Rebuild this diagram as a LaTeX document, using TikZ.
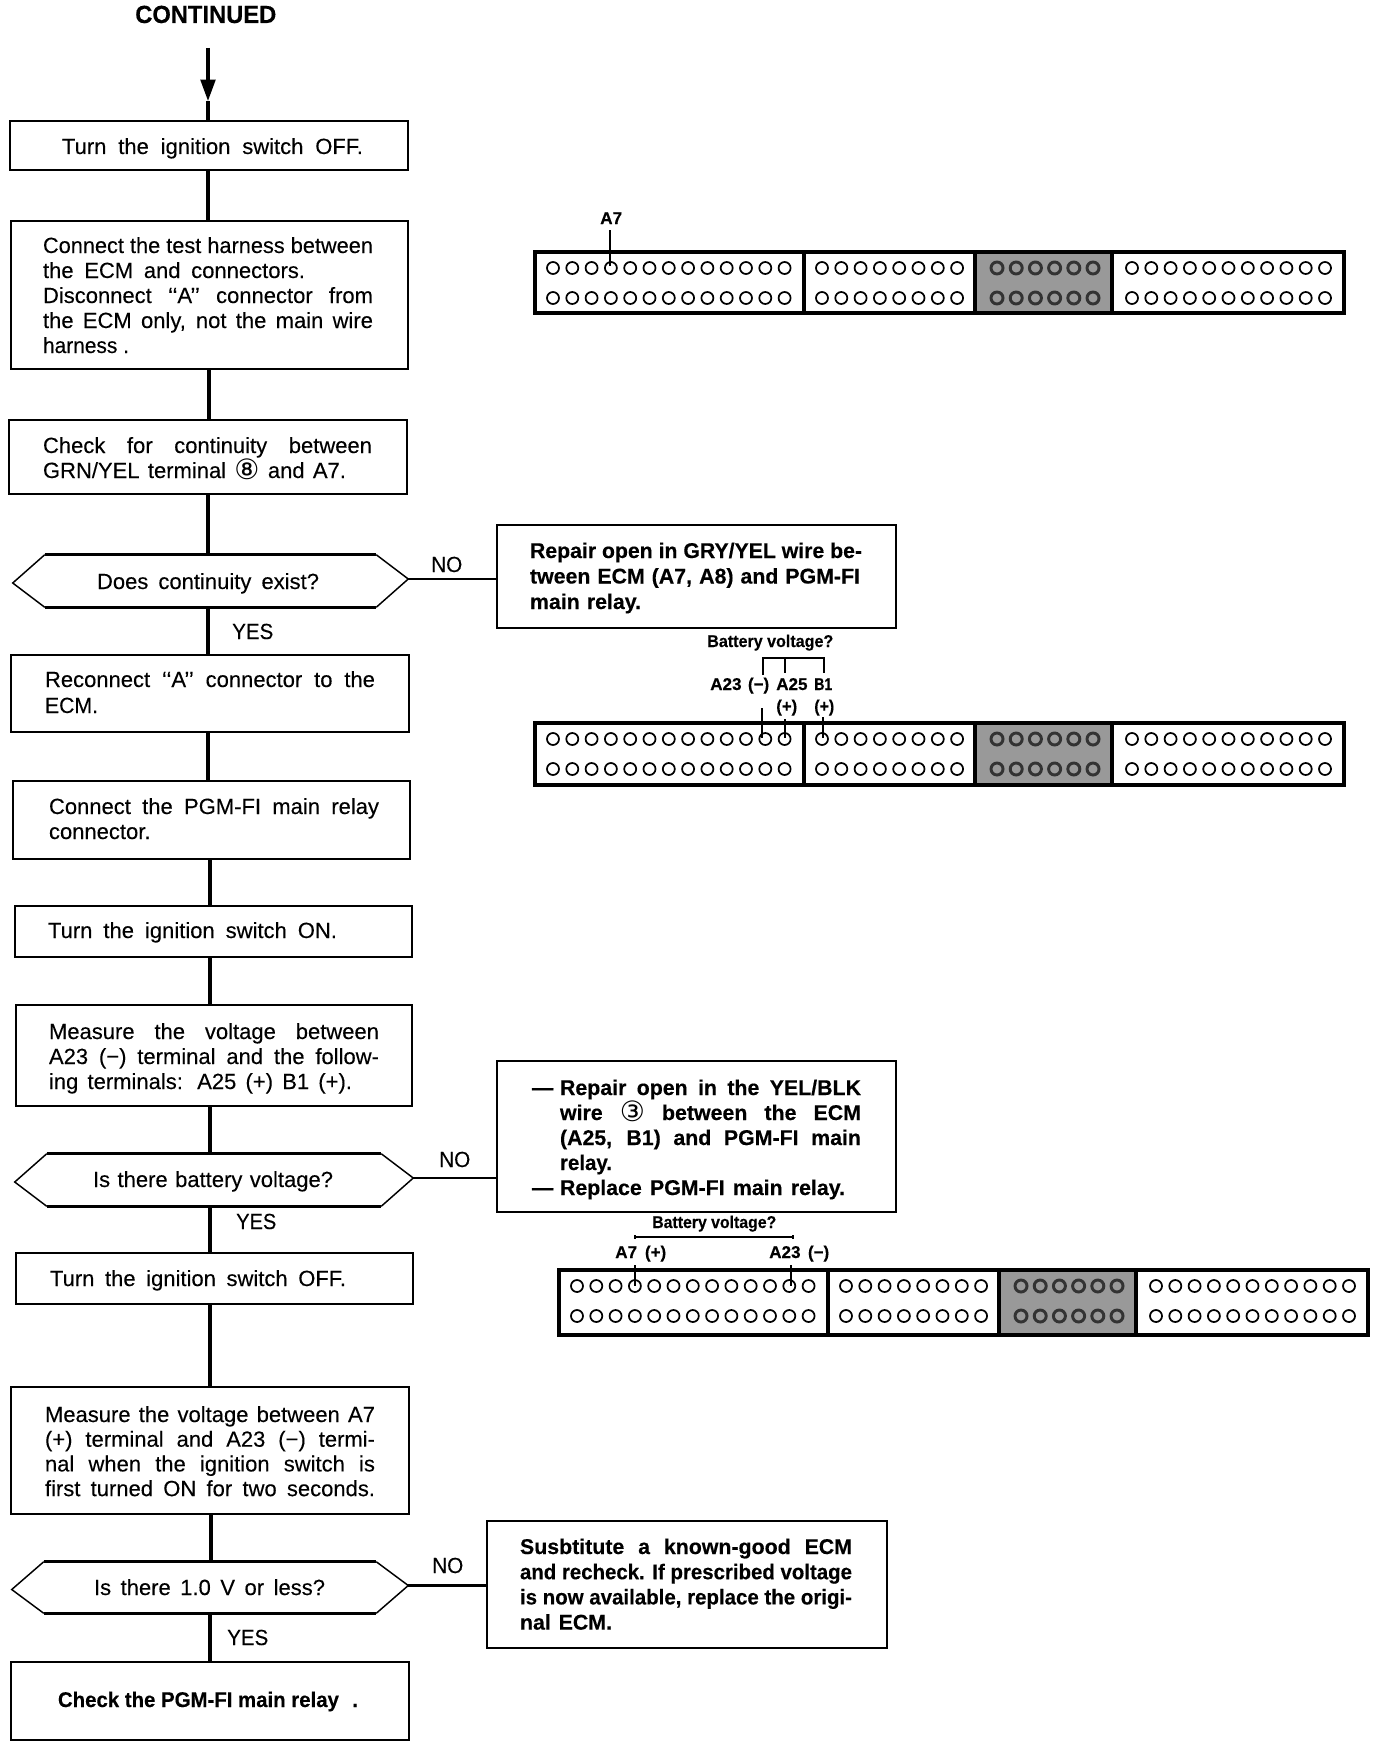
\documentclass[tikz,border=0pt]{standalone}
\usepackage{fontspec}
\usepackage{graphicx}
\setmainfont{Liberation Sans}[FakeBold=0.2,BoldFeatures={FakeBold=0.3}]
\newfontfamily\symf{DejaVu Sans}
\usetikzlibrary{arrows.meta}
\newlength\ux \ux=0.75pt
\newsavebox\fitbb
\newcommand\fitw[2]{\sbox\fitbb{#2}\ifdim\wd\fitbb>#1\ux\resizebox{#1\ux}{\height}{\usebox\fitbb}\else\makebox[#1\ux][s]{#2}\fi}
\def\curL{0}\def\curP{25}\def\curW{0}
\newcommand\lineT[3][0]{\hbox to \curW\ux{\hskip\curL\ux\hskip#1\ux\smash{\fitw{#2}{#3}}\hss}\vskip\curP\ux}
\newcommand\txt{\fontsize{16.5pt}{18pt}\selectfont}
\newcommand\bfb{\fontsize{16pt}{18pt}\selectfont\bfseries}
\newcommand\smb{\fontsize{12.8pt}{14pt}\selectfont\bfseries}
\newcommand\circd[1]{\raisebox{-1.2pt}{\mdseries\fontsize{21pt}{22pt}\selectfont\symf\char"#1}}
\tikzset{
 bxs/.style={draw=black,line width=2.1pt,fill=white,inner sep=0pt,rectangle},
 hxs/.style={inner sep=0pt,rectangle},
 wire/.style={line width=2.3pt},
 nowire/.style={line width=1.6pt},
 fine/.style={line width=1.2pt},
 lab/.style={anchor=base west,inner sep=0pt},
 hole/.style={draw=black,line width=1.3pt,fill=white},
 ghole/.style={draw=black!80,line width=2.2pt,fill=black!40},
 shell/.style={draw=black,line width=2.8pt,fill=white}
}
% name x0 y0 x1 y1 textx baseline pitch lines
\newcommand\plainbox[9]{%
 \pgfmathsetmacro\cxx{(#2+#4)/2}\pgfmathsetmacro\cyy{(#3+#5)/2}%
 \pgfmathsetmacro\wxx{#4-#2}\pgfmathsetmacro\hxx{#5-#3}%
 \pgfmathsetmacro\lxx{#6-#2}\pgfmathsetmacro\bxx{#7-#3}%
 \node[bxs,minimum width=\wxx*0.75pt,minimum height=\hxx*0.75pt] (#1) at (\cxx,\cyy)
 {\vbox to \hxx\ux{\offinterlineskip\txt\edef\curL{\lxx}\edef\curW{\wxx}\def\curP{#8}\vskip\bxx\ux #9\vss}};}
\newcommand\hexbox[9]{%
 \pgfmathsetmacro\cxx{(#2+#4)/2}\pgfmathsetmacro\cyy{(#3+#5)/2}%
 \pgfmathsetmacro\wxx{#4-#2}\pgfmathsetmacro\hxx{#5-#3}%
 \pgfmathsetmacro\lxx{#6-#2}\pgfmathsetmacro\bxx{#7-#3}%
 \node[hxs,minimum width=\wxx*0.75pt,minimum height=\hxx*0.75pt] (#1) at (\cxx,\cyy)
 {\vbox to \hxx\ux{\offinterlineskip\txt\edef\curL{\lxx}\edef\curW{\wxx}\def\curP{25}\vskip\bxx\ux\lineT{#8}{#9}\vss}};
 \coordinate (#1-l) at ([yshift=-1.5pt]#1.west);
 \coordinate (#1-r) at ([yshift=1.5pt]#1.east);
 \coordinate (#1-tl) at ([xshift=24pt]#1.north west);
 \coordinate (#1-tr) at ([xshift=-24pt]#1.north east);
 \coordinate (#1-bl) at ([xshift=24pt]#1.south west);
 \coordinate (#1-br) at ([xshift=-24pt]#1.south east);
 \draw[line width=1.1pt] (#1-tl) -- (#1-l) -- (#1-bl);
 \draw[line width=1.1pt] (#1-tr) -- (#1-r) -- (#1-br);
 \draw[line width=2pt] (#1-tl) -- (#1-tr);
 \draw[line width=2pt] (#1-bl) -- (#1-br);}
% dx, top, height
\newcommand\conn[3]{\begin{scope}[shift={(#1,#2)}]
 \draw[shell] (535,0) rectangle (1344,#3);
 \fill[black!40] (975,0) rectangle (1112,#3);
 \draw[line width=2.8pt] (535,0) rectangle (1344,#3);
 \draw[line width=3.2pt] (804,0) -- (804,#3);
 \draw[line width=2.8pt] (975,0) -- (975,#3);
 \draw[line width=3.2pt] (1112,0) -- (1112,#3);
 \foreach \r in {16,46}{
  \foreach \i in {0,...,12}{\pgfmathsetmacro\hh{553+19.3*\i}\draw[hole] (\hh,\r) circle[radius=6];}
  \foreach \i in {0,...,7}{\pgfmathsetmacro\hh{822+19.3*\i}\draw[hole] (\hh,\r) circle[radius=6];}
  \foreach \i in {0,...,5}{\pgfmathsetmacro\hh{997+19.2*\i}\draw[ghole] (\hh,\r) circle[radius=6];}
  \foreach \i in {0,...,10}{\pgfmathsetmacro\hh{1132+19.3*\i}\draw[hole] (\hh,\r) circle[radius=6];}
 }
\end{scope}}
\begin{document}
\begin{tikzpicture}[x=0.75pt,y=-0.75pt]
\useasboundingbox (0,0) rectangle (1376,1748);
% trunk positions
\coordinate (t208) at (208,0);
\coordinate (t209) at (209,0);
\coordinate (t210) at (210,0);
\coordinate (t211) at (211,0);
\coordinate (start) at (208,48);
\coordinate (tip) at (208,101);

\node[lab] (cont) at (135,23) {\fontsize{18.6pt}{22pt}\selectfont\bfseries\fitw{141}{CONTINUED}};

\plainbox{b1}{10}{121}{408}{170}{62}{154}{25}{\lineT{301}{Turn the ignition switch OFF.}}
\plainbox{b2}{11}{221}{408}{369}{43}{253}{25}{%
 \lineT{330}{Connect the test harness between}
 \lineT{262}{the ECM and connectors.}
 \lineT{330}{Disconnect ‘‘A’’ connector from}
 \lineT{330}{the ECM only, not the main wire}
 \lineT{86}{harness .}}
\plainbox{b3}{9}{420}{407}{494}{43}{453}{25}{%
 \lineT{329}{Check for continuity between}
 \lineT{303}{GRN/YEL terminal \circd{2467} and A7.}}
\hexbox{d1}{13}{555}{408}{607}{97}{589}{222}{Does continuity exist?}
\plainbox{b4}{11}{655}{409}{732}{45}{687}{26}{%
 \lineT{330}{Reconnect ‘‘A’’ connector to the}
 \lineT{53}{ECM.}}
\plainbox{b5}{13}{781}{410}{859}{49}{814}{25}{%
 \lineT{330}{Connect the PGM-FI main relay}
 \lineT{108}{connector.}}
\plainbox{b6}{15}{906}{412}{957}{48}{938}{25}{\lineT{289}{Turn the ignition switch ON.}}
\plainbox{b7}{16}{1005}{412}{1106}{49}{1039}{25}{%
 \lineT{330}{Measure the voltage between}
 \lineT{330}{A23 (−) terminal and the follow-}
 \lineT{303}{ing terminals: A25 (+) B1 (+).}}
\hexbox{d2}{15}{1154}{413}{1206}{93}{1187}{240}{Is there battery voltage?}
\plainbox{b8}{16}{1253}{413}{1304}{50}{1286}{25}{\lineT{296}{Turn the ignition switch OFF.}}
\plainbox{b9}{11}{1387}{409}{1514}{45}{1422}{24.7}{%
 \lineT{330}{Measure the voltage between A7}
 \lineT{330}{(+) terminal and A23 (−) termi-}
 \lineT{330}{nal when the ignition switch is}
 \lineT{330}{first turned ON for two seconds.}}
\hexbox{d3}{12}{1562}{408}{1613}{94}{1595}{231}{Is there 1.0 V or less?}
\plainbox{b10}{11}{1662}{409}{1740}{58}{1707}{25}{\bfb\lineT{300}{Check the PGM-FI main relay\hspace{14\ux}.}}

\plainbox{r1}{497}{525}{896}{628}{530}{558}{25.5}{\bfb
 \lineT{332}{Repair open in GRY/YEL wire be-}
 \lineT{330}{tween ECM (A7, A8) and PGM-FI}
 \lineT{111}{main relay.}}
\plainbox{r2}{497}{1061}{896}{1212}{532}{1095}{25}{\bfb
 \lineT{329}{\makebox[28\ux][l]{—}Repair open in the YEL/BLK}
 \lineT[28]{301}{wire \circd{2462} between the ECM}
 \lineT[28]{301}{(A25, B1) and PGM-FI main}
 \lineT[28]{52}{relay.}
 \lineT{313}{\makebox[28\ux][l]{—}Replace PGM-FI main relay.}}
\plainbox{r3}{487}{1521}{887}{1648}{520}{1554}{25.2}{\bfb
 \lineT{332}{Susbtitute a known-good ECM}
 \lineT{332}{and recheck. If prescribed voltage}
 \lineT{332}{is now available, replace the origi-}
 \lineT{92}{nal ECM.}}

\node[lab] (no1) at (431,572) {\fontsize{16.4pt}{20pt}\selectfont\fitw{31}{NO}};
\node[lab] (yes1) at (232,639) {\fontsize{16.4pt}{20pt}\selectfont\fitw{41}{YES}};
\node[lab] (no2) at (439,1167) {\fontsize{16.4pt}{20pt}\selectfont\fitw{31}{NO}};
\node[lab] (yes2) at (236,1229) {\fontsize{16.4pt}{20pt}\selectfont\fitw{40}{YES}};
\node[lab] (no3) at (432,1573) {\fontsize{16.4pt}{20pt}\selectfont\fitw{31}{NO}};
\node[lab] (yes3) at (227,1645) {\fontsize{16.4pt}{20pt}\selectfont\fitw{41}{YES}};

% flow connectors
\draw[wire,-{Triangle[length=16pt,width=11pt]}] (start) -- (tip);
\draw[wire] (tip) -- (t208 |- b1.north);
\draw[wire] (t208 |- b1.south) -- (t208 |- b2.north);
\draw[wire] (t209 |- b2.south) -- (t209 |- b3.north);
\draw[wire] (t208 |- b3.south) -- (t208 |- d1.north);
\draw[wire] (t208 |- d1.south) -- (t208 |- b4.north);
\draw[line width=3pt] (t208 |- b4.south) -- (t208 |- b5.north);
\draw[wire] (t210 |- b5.south) -- (t210 |- b6.north);
\draw[wire] (t210 |- b6.south) -- (t210 |- b7.north);
\draw[wire] (t210 |- b7.south) -- (t210 |- d2.north);
\draw[wire] (t210 |- d2.south) -- (t210 |- b8.north);
\draw[wire] (t210 |- b8.south) -- (t210 |- b9.north);
\draw[wire] (t211 |- b9.south) -- (t211 |- d3.north);
\draw[wire] (t210 |- d3.south) -- (t210 |- b10.north);
\draw[nowire] (d1-r) -- (d1-r -| r1.west);
\draw[nowire] (d2-r) -- (d2-r -| r2.west);
\draw[nowire] (d3-r) -- (d3-r -| r3.west);

% connector 1
\conn{0}{252}{61}
\node[lab] (a71) at (600,224) {\smb\fitw{22}{A7}};
\coordinate (a71up) at (610,230);
\coordinate (a71hole) at (610,266);
\draw[fine] (a71up) -- (a71hole);

% connector 2
\conn{0}{723}{62}
\node[lab] (bv1) at (707,647) {\smb\fitw{126}{Battery voltage?}};
\node[lab] (a23a) at (710,690) {\smb\fitw{59}{A23 (−)}};
\node[lab] (a25a) at (776,690) {\smb\fitw{33}{A25}};
\node[lab] (b1a) at (814,690) {\smb\fitw{18}{B1}};
\node[lab] (pa) at (776,712) {\smb\fitw{21}{(+)}};
\node[lab] (pb) at (814,712) {\smb\fitw{20}{(+)}};
\coordinate (brA) at (763,658);
\coordinate (brB) at (785,658);
\coordinate (brC) at (824,658);
\draw[fine] (763,675) -- (brA) -- (brC) -- (824,673);
\draw[fine] (brB) -- (785,673);
\coordinate (l1u) at (762,708);
\coordinate (l1d) at (762,738);
\coordinate (l2u) at (785,719);
\coordinate (l2d) at (785,738);
\coordinate (l3u) at (823,717);
\coordinate (l3d) at (823,738);
\draw[fine] (l1u) -- (l1d);
\draw[fine] (l2u) -- (l2d);
\draw[fine] (l3u) -- (l3d);

% connector 3
\conn{24}{1270}{65}
\node[lab] (bv2) at (652,1228) {\smb\fitw{124}{Battery voltage?}};
\node[lab] (a73) at (615,1258) {\smb\fitw{51}{A7 (+)}};
\node[lab] (a233) at (769,1258) {\smb\fitw{60}{A23 (−)}};
\coordinate (mL) at (635,1237);
\coordinate (mR) at (793,1237);
\draw[fine] (mL) -- (mR);
\draw[fine] ([yshift=1.5pt]mL) -- ([yshift=-1.5pt]mL);
\draw[fine] ([yshift=1.5pt]mR) -- ([yshift=-1.5pt]mR);
\coordinate (n1u) at (635,1265);
\coordinate (n1d) at (635,1286);
\coordinate (n2u) at (791,1265);
\coordinate (n2d) at (791,1286);
\draw[fine] (n1u) -- (n1d);
\draw[fine] (n2u) -- (n2d);
\end{tikzpicture}
\end{document}
